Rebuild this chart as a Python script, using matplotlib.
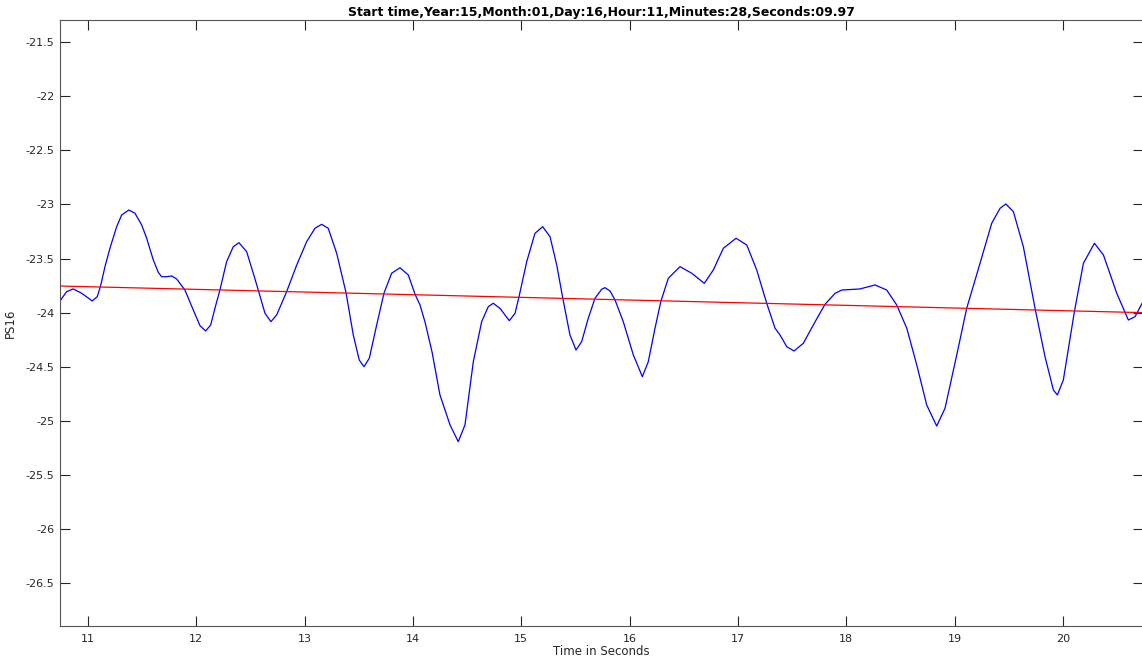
import matplotlib
matplotlib.use('Agg')
import matplotlib.pyplot as plt
import numpy as np

# PS16 signal (time in s, value)
t_sec = [10.742, 10.803, 10.864, 10.942, 11.040, 11.086, 11.117, 11.157, 11.203, 11.265,
         11.311, 11.378, 11.434, 11.496, 11.542, 11.603, 11.649, 11.680, 11.726, 11.773,
         11.819, 11.895, 11.972, 12.034, 12.086, 12.133, 12.172, 12.218, 12.280, 12.341,
         12.394, 12.465, 12.526, 12.572, 12.634, 12.689, 12.742, 12.834, 12.927, 13.019,
         13.095, 13.157, 13.218, 13.296, 13.382, 13.449, 13.504, 13.548, 13.597, 13.665,
         13.732, 13.803, 13.880, 13.957, 14.019, 14.065, 14.111, 14.176, 14.249, 14.342,
         14.418, 14.480, 14.557, 14.634, 14.695, 14.741, 14.803, 14.889, 14.942, 14.979,
         15.050, 15.126, 15.197, 15.265, 15.327, 15.382, 15.449, 15.505, 15.557, 15.618,
         15.680, 15.742, 15.772, 15.819, 15.865, 15.941, 16.034, 16.117, 16.172, 16.234,
         16.289, 16.357, 16.465, 16.573, 16.689, 16.772, 16.865, 16.982, 17.081, 17.173,
         17.265, 17.342, 17.388, 17.450, 17.517, 17.603, 17.695, 17.803, 17.896, 17.957,
         18.126, 18.265, 18.373, 18.465, 18.558, 18.650, 18.742, 18.834, 18.911, 19.019,
         19.111, 19.234, 19.342, 19.419, 19.472, 19.542, 19.634, 19.742, 19.834, 19.911,
         19.948, 20.003, 20.105, 20.188, 20.290, 20.373, 20.496, 20.603, 20.665, 20.730]
ps16 = [-23.892, -23.806, -23.781, -23.821, -23.892, -23.852, -23.751, -23.575, -23.405, -23.206,
        -23.098, -23.052, -23.082, -23.190, -23.313, -23.513, -23.627, -23.668, -23.668, -23.661,
        -23.689, -23.791, -23.975, -24.120, -24.169, -24.114, -23.960, -23.791, -23.529, -23.391,
        -23.354, -23.437, -23.636, -23.791, -24.006, -24.083, -24.021, -23.806, -23.560, -23.344,
        -23.221, -23.184, -23.221, -23.452, -23.815, -24.206, -24.437, -24.499, -24.421, -24.114,
        -23.821, -23.636, -23.585, -23.652, -23.830, -23.929, -24.086, -24.363, -24.760, -25.037,
        -25.192, -25.037, -24.453, -24.083, -23.945, -23.913, -23.960, -24.074, -24.006, -23.852,
        -23.529, -23.267, -23.206, -23.298, -23.560, -23.862, -24.206, -24.345, -24.268, -24.052,
        -23.867, -23.784, -23.769, -23.800, -23.883, -24.083, -24.391, -24.591, -24.453, -24.144,
        -23.892, -23.682, -23.575, -23.636, -23.729, -23.606, -23.405, -23.313, -23.375, -23.606,
        -23.913, -24.144, -24.206, -24.314, -24.354, -24.283, -24.114, -23.923, -23.821, -23.791,
        -23.781, -23.744, -23.791, -23.929, -24.144, -24.483, -24.853, -25.047, -24.883, -24.391,
        -23.960, -23.544, -23.174, -23.036, -22.996, -23.067, -23.391, -23.960, -24.407, -24.714,
        -24.760, -24.622, -23.991, -23.544, -23.359, -23.467, -23.821, -24.068, -24.037, -23.913]

# linear trend (red line) end points
trend_t = [10.742, 20.742]
trend_y = [-23.754, -24.000]

yticks = [-26.5, -26, -25.5, -25, -24.5, -24, -23.5, -23, -22.5, -22, -21.5]
ytick_labels = ['-26.5', '-26', '-25.5', '-25', '-24.5', '-24', '-23.5', '-23', '-22.5', '-22', '-21.5']
xticks = [11, 12, 13, 14, 15, 16, 17, 18, 19, 20]

title = 'Start time,Year:15,Month:01,Day:16,Hour:11,Minutes:28,Seconds:09.97'

fig = plt.figure(figsize=(11.42, 6.61), dpi=100)
ax = fig.add_axes([60 / 1142, 1 - 626 / 661, 1083.4 / 1142, 606 / 661])

ax.plot(t_sec, ps16, color='#0000ff', linewidth=0.9, solid_joinstyle='round')
ax.plot(trend_t, trend_y, color='#ff0000', linewidth=0.9)

ax.set_xlim(10.742, 20.742)
ax.set_ylim(-26.894, -21.297)
ax.set_xticks(xticks)
ax.set_xticklabels([str(v) for v in xticks])
ax.set_yticks(yticks)
ax.set_yticklabels(ytick_labels)

ax.tick_params(direction='in', length=7, width=0.8, colors='#262626', labelsize=8,
               top=True, right=True)
ax.tick_params(axis='x', pad=5.5)
ax.tick_params(axis='y', pad=4)
for sp in ax.spines.values():
    sp.set_color('#555555')
    sp.set_linewidth(0.8)

ax.set_title(title, fontsize=9, fontweight='bold', pad=3)
ax.set_xlabel('Time in Seconds', fontsize=8.5, color='#262626', labelpad=1)
ax.set_ylabel('PS16', fontsize=8.5, color='#262626', labelpad=6)

plt.savefig('out.png', dpi=100)
plt.close()
